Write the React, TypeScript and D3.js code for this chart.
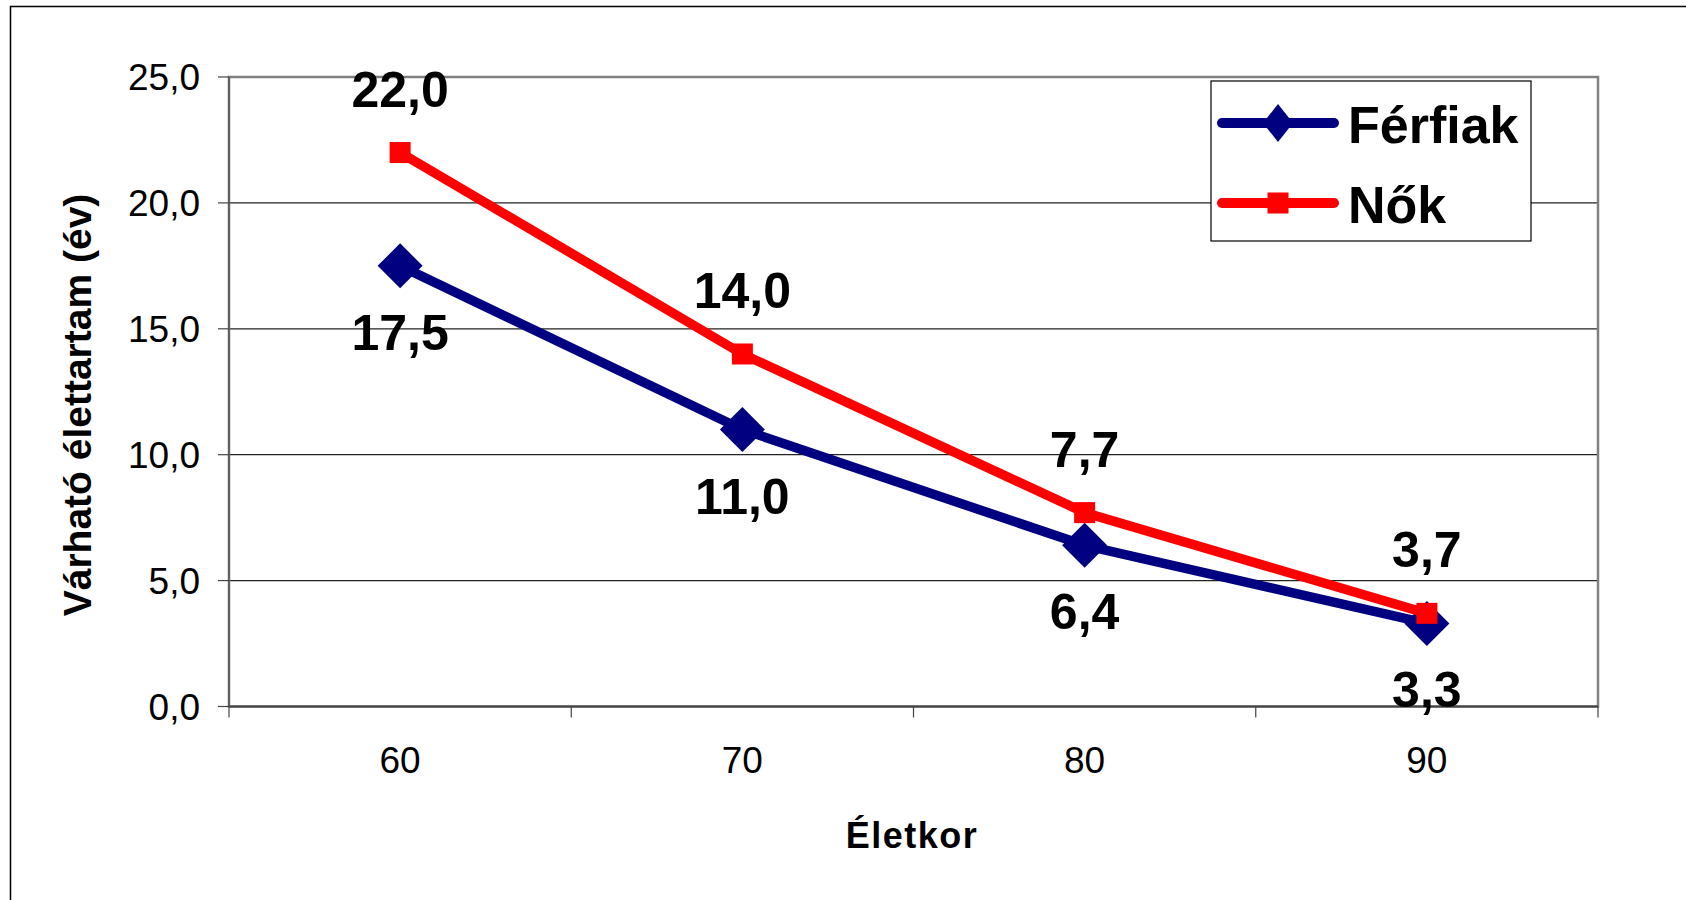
import React from "react";
import * as d3 from "d3";

const ages = ["60", "70", "80", "90"];
const ferfiak = [17.5, 11.0, 6.4, 3.3];
const nok = [22.0, 14.0, 7.7, 3.7];
const yTicks = [0, 5, 10, 15, 20, 25];
const seriesNames = ["Férfiak", "Nők"];

const W = 1686;
const H = 900;
const FONT = "'Liberation Sans', Arial, Helvetica, sans-serif";
const NAVY = "#000080";
const RED = "#FF0000";

const fmt = (v: number) => d3.format(".1f")(v).replace(".", ",");

export default function App() {
  const x = d3.scaleBand<string>().domain(ages).range([229, 1598]);
  const y = d3.scaleLinear().domain([0, 25]).range([706.5, 77]);
  const cx = (a: string) => (x(a) as number) + x.bandwidth() / 2;

  const line = d3
    .line<number>()
    .x((_, i) => cx(ages[i]))
    .y((d) => y(d));

  const diamond = (px: number, py: number, hw: number, hh: number) =>
    `M${px},${py - hh}L${px + hw},${py}L${px},${py + hh}L${px - hw},${py}Z`;

  const boundaries = [...ages.map((a) => x(a) as number), x.range()[1]];
  const [x0, x1] = x.range();
  const [yb, yt] = y.range();

  return (
    <svg
      width={W}
      height={H}
      style={{ position: "absolute", left: 0, top: 0, background: "#fff" }}
      fontFamily={FONT}
    >
      <rect x={0} y={0} width={W} height={H} fill="#fff" />
      {/* outer frame */}
      <path d={`M10.5,${H}V6.5H${W}`} fill="none" stroke="#000" strokeWidth={1.5} />

      {/* gridlines */}
      {yTicks.slice(1, -1).map((t) => (
        <line key={t} x1={x0} x2={x1} y1={y(t)} y2={y(t)} stroke="#222" strokeWidth={1.2} />
      ))}
      {/* plot area border */}
      <rect x={x0} y={yt} width={x1 - x0} height={yb - yt} fill="none" stroke="#808080" strokeWidth={2.5} />
      {/* axes */}
      <line x1={x0} x2={x0} y1={yt} y2={yb} stroke="#555" strokeWidth={1.5} />
      <line x1={x0} x2={x1} y1={yb} y2={yb} stroke="#444" strokeWidth={1.8} />

      {/* y ticks */}
      {yTicks.map((t) => (
        <g key={t}>
          <line x1={218} x2={x0} y1={y(t)} y2={y(t)} stroke="#444" strokeWidth={1.2} />
          <text x={200} y={y(t) + 13} textAnchor="end" fontSize={37} fill="#000">
            {fmt(t)}
          </text>
        </g>
      ))}
      {/* x ticks */}
      {boundaries.map((b, i) => (
        <line key={i} x1={b} x2={b} y1={yb} y2={yb + 11} stroke="#444" strokeWidth={1.2} />
      ))}
      {ages.map((a) => (
        <text key={a} x={cx(a)} y={773} textAnchor="middle" fontSize={37} fill="#000">
          {a}
        </text>
      ))}

      {/* axis titles */}
      <text x={912} y={848} textAnchor="middle" fontSize={36} fontWeight="bold" letterSpacing={1.5} fill="#000">
        Életkor
      </text>
      <text
        transform={`translate(91,405) rotate(-90)`}
        textAnchor="middle"
        fontSize={39}
        fontWeight="bold"
        fill="#000"
      >
        Várható élettartam (év)
      </text>

      {/* series lines */}
      <path d={line(ferfiak) as string} fill="none" stroke={NAVY} strokeWidth={9.5} strokeLinejoin="round" />
      {ferfiak.map((v, i) => (
        <path key={i} d={diamond(cx(ages[i]), y(v), 22.5, 22.5)} fill={NAVY} />
      ))}
      <path d={line(nok) as string} fill="none" stroke={RED} strokeWidth={9.5} strokeLinejoin="round" />
      {nok.map((v, i) => (
        <rect key={i} x={cx(ages[i]) - 10.5} y={y(v) - 10.5} width={21} height={21} fill={RED} />
      ))}

      {/* data labels */}
      {nok.map((v, i) => (
        <text key={"n" + i} x={cx(ages[i])} y={y(v) - 46} textAnchor="middle" fontSize={50} fontWeight="bold" fill="#000">
          {fmt(v)}
        </text>
      ))}
      {ferfiak.map((v, i) => (
        <text key={"f" + i} x={cx(ages[i])} y={y(v) + 84} textAnchor="middle" fontSize={50} fontWeight="bold" fill="#000">
          {fmt(v)}
        </text>
      ))}

      {/* legend */}
      <rect x={1211} y={81} width={320} height={160} fill="#fff" stroke="#000" strokeWidth={1.2} />
      {seriesNames.map((name, i) => {
        const ly = i === 0 ? 123 : 203;
        const color = i === 0 ? NAVY : RED;
        return (
          <g key={name}>
            <line x1={1222} x2={1334} y1={ly} y2={ly} stroke={color} strokeWidth={10} strokeLinecap="round" />
            {i === 0 ? (
              <path d={diamond(1278, ly, 15, 19)} fill={color} />
            ) : (
              <rect x={1278 - 10.5} y={ly - 10.5} width={21} height={21} fill={color} />
            )}
            <text x={1348} y={ly + 20} fontSize={52} fontWeight="bold" fill="#000">
              {name}
            </text>
          </g>
        );
      })}
    </svg>
  );
}
